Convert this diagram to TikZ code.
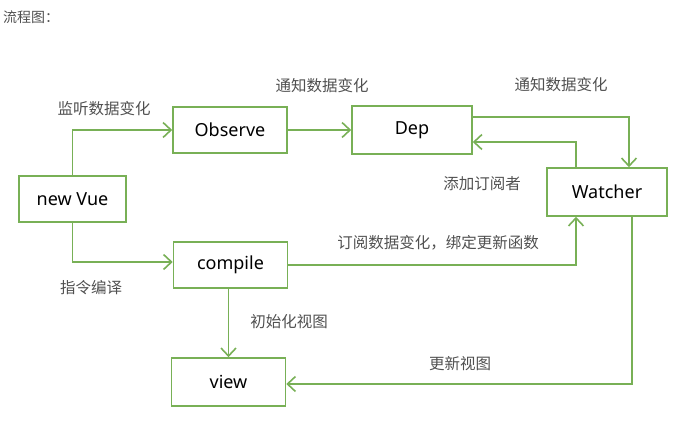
\documentclass[tikz,border=0pt]{standalone}
\usepackage{fontspec}
\setmainfont{Noto Sans}
\newfontfamily\cjk{Noto Sans CJK SC}
\usetikzlibrary{arrows.meta}
\definecolor{lgreen}{HTML}{78B056}
\definecolor{lblgray}{HTML}{505050}
\tikzset{
  box/.style={draw=lgreen, line width=1.6pt, fill=white, minimum height=46pt, inner sep=0pt, font=\fontsize{18}{21}\selectfont},
  conn/.style={draw=lgreen, line width=1.6pt, -{Straight Barb[length=8pt,width=15pt,line width=1.6pt]}},
  lbl/.style={text=lblgray, inner sep=0pt, font=\cjk\fontsize{15.5}{18}\selectfont}
}
\begin{document}
\begin{tikzpicture}[x=1pt,y=-1pt]
\useasboundingbox (0,0) rectangle (685,430);
\node[text=lblgray, anchor=west, inner sep=0pt, font=\cjk\fontsize{14}{16}\selectfont] (title) at (3,17) {流程图：};
\node[box, minimum width=107pt] (newvue) at (72.5,199) {new Vue};
\node[box, minimum width=114pt] (observe) at (230,130) {Observe};
\node[box, minimum width=114pt] (compile) at (230.5,265) {compile};
\node[box, minimum width=114pt, minimum height=48pt] (view) at (228.5,382) {view};
\node[box, minimum width=120pt, minimum height=48pt] (dep) at (412,130) {Dep};
\node[box, minimum width=120pt, minimum height=48pt] (watcher) at (607,192) {Watcher};

\draw[conn] (newvue.north) |- (observe.west);
\draw[conn] (observe.east) -- (dep.west);
\draw[conn] (newvue.south) |- ([yshift=3pt]compile.west);
\draw[conn] (view.north |- compile.south) -- (view.north);
\draw[conn] ([yshift=13pt]dep.east) -| ([xshift=22pt]watcher.north);
\draw[conn] ([xshift=-31pt]watcher.north) |- ([yshift=-12pt]dep.east);
\draw[conn] (compile.east) -| ([xshift=-31pt]watcher.south);
\draw[conn] ([xshift=25pt]watcher.south) |- ([yshift=-2pt]view.east);

\node[lbl] (l1) at (104,109) {监听数据变化};
\node[lbl] (l2) at (322,86) {通知数据变化};
\node[lbl] (l3) at (561,85) {通知数据变化};
\node[lbl] (l4) at (482,184) {添加订阅者};
\node[lbl] (l5) at (438,243) {订阅数据变化，绑定更新函数};
\node[lbl] (l6) at (91,288) {指令编译};
\node[lbl] (l7) at (289,322) {初始化视图};
\node[lbl] (l8) at (460,364) {更新视图};
\end{tikzpicture}
\end{document}
